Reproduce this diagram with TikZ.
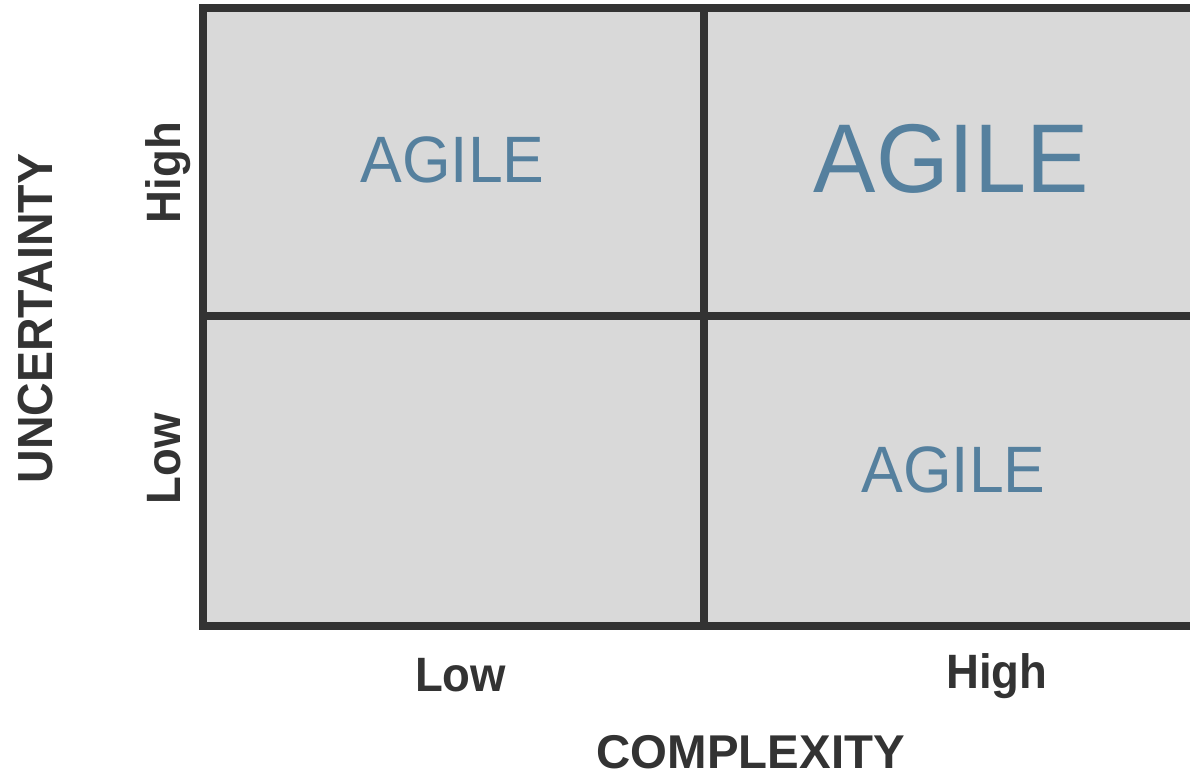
\documentclass[tikz,border=0pt]{standalone}
\usepackage{fontspec}
\setmainfont{Liberation Sans}
\definecolor{cellfill}{HTML}{D9D9D9}
\definecolor{cellline}{HTML}{333333}
\definecolor{agileblue}{HTML}{55809E}
\definecolor{labelgray}{HTML}{333333}
\begin{document}
\begin{tikzpicture}[x=1pt,y=-1pt,
  cell/.style={draw=cellline,fill=cellfill,line width=8pt,line join=miter,inner sep=0pt,outer sep=0pt},
  agile/.style={inner sep=0pt,anchor=base,text=agileblue},
  axislabel/.style={inner sep=0pt,anchor=base,text=labelgray,font=\bfseries}]
\useasboundingbox (0,0) rectangle (1190,776);
\clip (0,0) rectangle (1190,776);
% cells
\node[cell,minimum width=501pt,minimum height=308pt] (tl) at (453.5,162) {};
\node[cell,minimum width=501pt,minimum height=309.5pt] (bl) at (453.5,470.75) {};
\node[cell,minimum width=496pt,minimum height=308pt] (tr) at (952,162) {};
\node[cell,minimum width=496pt,minimum height=309.5pt] (br) at (952,470.75) {};
% cell texts
\node[agile] (t1) at (452.5,182.7) {\scalebox{1}[1.05]{\fontsize{62.5}{63}\selectfont AGILE}};
\node[agile] (t2) at (951.5,192) {\scalebox{1}[1.045]{\fontsize{93.5}{94}\selectfont AGILE}};
\node[agile] (t3) at (953.5,492.5) {\scalebox{1}[1.05]{\fontsize{62.5}{63}\selectfont AGILE}};
% axis labels
\node[axislabel] (xlow) at (460.5,691.7) {\scalebox{1}[1.06]{\fontsize{45.5}{46}\selectfont Low}};
\node[axislabel] (xhigh) at (997,688.3) {\scalebox{1}[1.06]{\fontsize{45.5}{46}\selectfont High}};
\node[axislabel] (xtitle) at (750.8,768.5) {\fontsize{47.4}{48}\selectfont COMPLEXITY};
\node[axislabel,rotate=90] (ytitle) at (52,318.5) {\scalebox{1}[1.06]{\fontsize{46.5}{47}\selectfont UNCERTAINTY}};
\node[axislabel,rotate=90] (yhigh) at (180.7,172.5) {\scalebox{1}[1.06]{\fontsize{45.5}{46}\selectfont High}};
\node[axislabel,rotate=90] (ylow) at (180.7,458.7) {\scalebox{1}[1.06]{\fontsize{45.5}{46}\selectfont Low}};
\end{tikzpicture}
\end{document}
